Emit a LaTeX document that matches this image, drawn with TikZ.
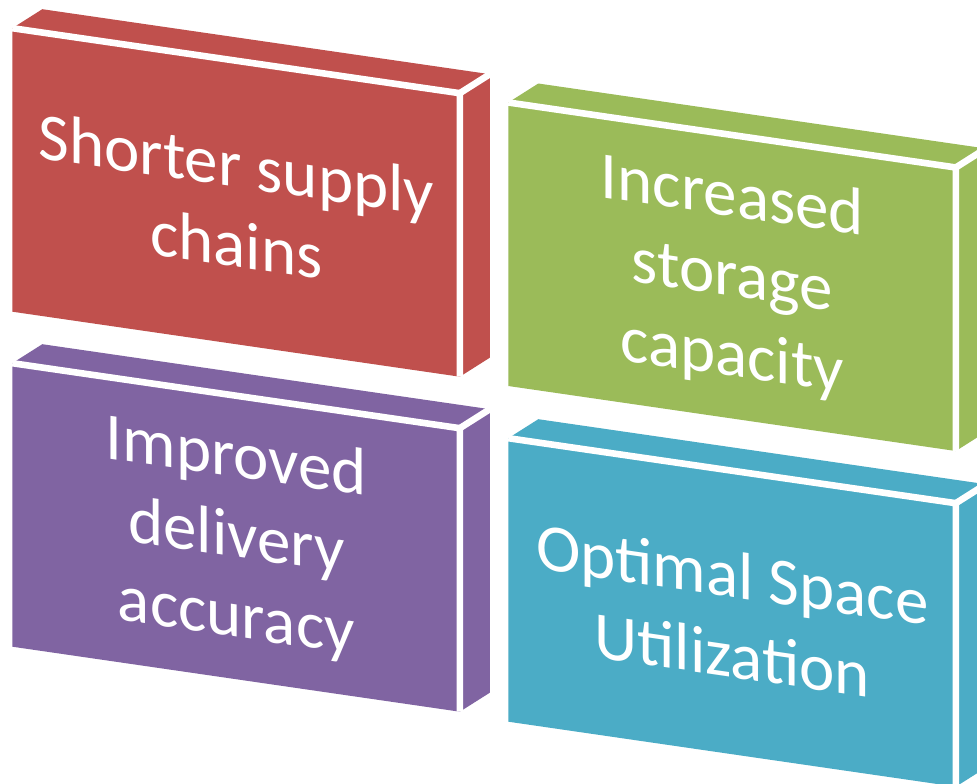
\documentclass[tikz,border=0pt]{standalone}
\usepackage{fontspec}
\setmainfont{Carlito}
\definecolor{slabred}{HTML}{C0504D}
\definecolor{slabgreen}{HTML}{9BBB59}
\definecolor{slabpurple}{HTML}{8064A2}
\definecolor{slabblue}{HTML}{4BACC6}
\tikzset{
  whiteedge/.style={draw=white, line width=6.6pt},
  lbl/.style={text=white, align=center, inner sep=0pt,
    font=\fontsize{67}{80}\selectfont, yslant=-0.1453},
}
% #1 name, #2 colour, #3 x, #4 y (front face top-left, in px), #5 text
\newcommand\slabblock[5]{%
  \begin{scope}[shift={(#3,#4)}]
    \coordinate (#1-a) at (0,-3.5);
    \coordinate (#1-b) at (447.5,61.5);
    \coordinate (#1-c) at (447.5,345);
    \coordinate (#1-d) at (0,280);
    \coordinate (#1-ab) at (30,-22.5);
    \coordinate (#1-bb) at (477.5,42.5);
    \coordinate (#1-cb) at (477.5,326);
    \fill[#2] (#1-a) -- (#1-b) -- (#1-c) -- (#1-d) -- cycle;
    \fill[#2] (#1-a) -- (#1-b) -- (#1-bb) -- (#1-ab) -- cycle;
    \fill[#2] (#1-b) -- (#1-c) -- (#1-cb) -- (#1-bb) -- cycle;
    \draw[whiteedge] (#1-a) -- (#1-b) -- (#1-c);
    \draw[whiteedge] (#1-b) -- (#1-bb);
    \node[lbl] (#1) at (224,172.5) {#5};
  \end{scope}}
\begin{document}
\begin{tikzpicture}[x=1pt,y=-1pt]
  \useasboundingbox (0,0) rectangle (977,784);
  \clip (0,0) rectangle (977,784);
  \fill[white] (0,0) rectangle (977,784);
  \slabblock{supply}{slabred}{12.3}{31.7}{Shorter supply\\chains}
  \slabblock{storage}{slabgreen}{508.3}{106}{Increased\\storage\\capacity}
  \slabblock{delivery}{slabpurple}{12.3}{366.7}{Improved\\delivery\\accuracy}
  \slabblock{space}{slabblue}{508.3}{441.7}{Optimal Space\\Utilization}
\end{tikzpicture}
\end{document}
